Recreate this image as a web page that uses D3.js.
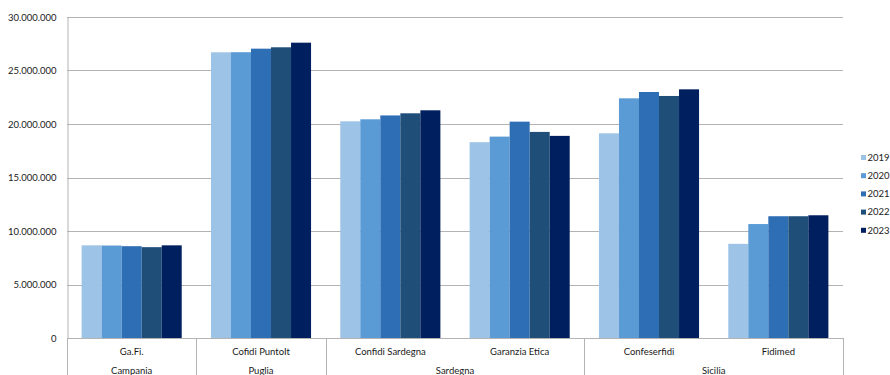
<!DOCTYPE html>
<html>
<head>
<meta charset="utf-8">
<script src="https://cdn.jsdelivr.net/npm/d3@7"></script>
<style>
  html, body { margin: 0; padding: 0; background: #fff; }
  svg { display: block; font-family: Lato, "Open Sans", sans-serif; }
</style>
</head>
<body>
<svg id="chart" width="890" height="375"></svg>
<script>
const categories = ["Ga.Fi.", "Cofidi PuntoIt", "Confidi Sardegna", "Garanzia Etica", "Confeserfidi", "Fidimed"];
const regions = [
  { name: "Campania", members: ["Ga.Fi."] },
  { name: "Puglia", members: ["Cofidi PuntoIt"] },
  { name: "Sardegna", members: ["Confidi Sardegna", "Garanzia Etica"] },
  { name: "Sicilia", members: ["Confeserfidi", "Fidimed"] }
];
const years = ["2019", "2020", "2021", "2022", "2023"];
const v2019 = [8660000, 26700000, 20250000, 18300000, 19130000, 8800000];
const v2020 = [8640000, 26710000, 20440000, 18820000, 22400000, 10650000];
const v2021 = [8580000, 27040000, 20800000, 20220000, 22990000, 11380000];
const v2022 = [8490000, 27170000, 21000000, 19260000, 22620000, 11380000];
const v2023 = [8660000, 27600000, 21280000, 18890000, 23240000, 11470000];
const yTicks = [0, 5000000, 10000000, 15000000, 20000000, 25000000, 30000000];
const colors = ["#9DC3E6", "#5B9BD5", "#2E6EB5", "#1F4E79", "#001F5F"];

const series = [v2019, v2020, v2021, v2022, v2023];
const data = categories.map((c, i) => ({ cat: c, values: years.map((y, j) => ({ year: y, value: series[j][i] })) }));

const svg = d3.select("#chart");
const mLeft = 67, mRight = 843, mTop = 17, mBottom = 338;

const x0 = d3.scaleBand().domain(categories).range([mLeft, mRight]).padding(0);
const x1 = d3.scaleBand().domain(years).range([0, x0.bandwidth()]).paddingInner(0).paddingOuter(0.73);
const y = d3.scaleLinear().domain([0, 30000000]).range([mBottom, mTop]);
const color = d3.scaleOrdinal().domain(years).range(colors);

const locale = d3.formatLocale({ decimal: ",", thousands: ".", grouping: [3], currency: ["", "€"] });
const fmt = locale.format(",.0f");

// gridlines
svg.append("g").selectAll("line").data(yTicks.filter(d => d > 0)).join("line")
  .attr("x1", mLeft).attr("x2", mRight)
  .attr("y1", d => Math.round(y(d)) + 0.5).attr("y2", d => Math.round(y(d)) + 0.5)
  .attr("stroke", "#b3b3b3").attr("stroke-width", 1);

// y axis
const yAxis = d3.axisLeft(y).tickValues(yTicks).tickFormat(fmt).tickSize(0).tickPadding(11);
const ya = svg.append("g").attr("transform", `translate(${mLeft + 0.5},0)`).call(yAxis);
ya.select(".domain").attr("stroke", "#b3b3b3");
ya.selectAll("text").attr("fill", "#1a1a1a").style("font-size", "9.5px").style("font-family", "Lato, sans-serif");

// bars
const groups = svg.append("g").selectAll("g").data(data).join("g")
  .attr("transform", d => `translate(${x0(d.cat)},0)`);
groups.selectAll("rect").data(d => d.values).join("rect")
  .attr("x", d => x1(d.year))
  .attr("width", x1.bandwidth())
  .attr("y", d => y(d.value))
  .attr("height", d => y(0) - y(d.value))
  .attr("fill", d => color(d.year));

// category axis (multi-level)
const xa = svg.append("g");
xa.append("line").attr("x1", mLeft).attr("x2", mRight).attr("y1", mBottom + 0.5).attr("y2", mBottom + 0.5)
  .attr("stroke", "#b3b3b3");
const boundaries = [mLeft];
regions.forEach(r => boundaries.push(x0(r.members[r.members.length - 1]) + x0.bandwidth()));
xa.selectAll("line.div").data(boundaries).join("line").attr("class", "div")
  .attr("x1", d => Math.round(d) + 0.5).attr("x2", d => Math.round(d) + 0.5)
  .attr("y1", mBottom).attr("y2", 375)
  .attr("stroke", "#b3b3b3");
xa.selectAll("text.cat").data(categories).join("text").attr("class", "cat")
  .attr("x", d => x0(d) + x0.bandwidth() / 2)
  .attr("y", 352).attr("dy", "0.35em")
  .attr("text-anchor", "middle").attr("fill", "#1a1a1a").style("font-size", "9.5px")
  .text(d => d);
xa.selectAll("text.reg").data(regions).join("text").attr("class", "reg")
  .attr("x", d => (x0(d.members[0]) + x0(d.members[d.members.length - 1]) + x0.bandwidth()) / 2)
  .attr("y", 371).attr("dy", "0.35em")
  .attr("text-anchor", "middle").attr("fill", "#1a1a1a").style("font-size", "9.5px")
  .text(d => d.name);

// legend
const legend = svg.append("g").selectAll("g").data(years).join("g")
  .attr("transform", (d, i) => `translate(861,${157.5 + i * 18.2})`);
legend.append("rect").attr("x", 0).attr("y", -2.5).attr("width", 5).attr("height", 5).attr("fill", d => color(d));
legend.append("text").attr("x", 6.5).attr("dy", "0.35em").attr("fill", "#1a1a1a").style("font-size", "9.5px").text(d => d);
</script>
</body>
</html>
